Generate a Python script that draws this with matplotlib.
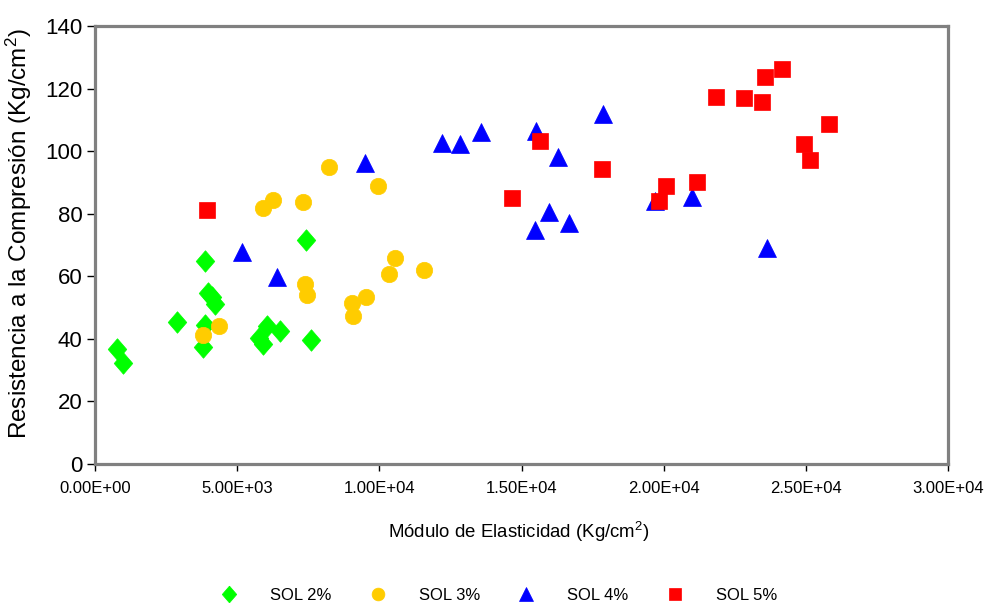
import matplotlib
matplotlib.use("Agg")
import matplotlib.pyplot as plt
from matplotlib.ticker import FixedLocator, FuncFormatter

plt.rcParams['font.family'] = ['Liberation Sans', 'DejaVu Sans']
plt.rcParams['mathtext.fontset'] = 'custom'
plt.rcParams['mathtext.rm'] = 'Liberation Sans'
plt.rcParams['mathtext.it'] = 'Liberation Sans:italic'
plt.rcParams['mathtext.default'] = 'regular'

# ---- data ----
sol2_x = [780, 1000, 2900, 3870, 3990, 4100, 4220, 3870, 3790, 6040, 6510, 5780, 5920, 7590, 7420]
sol2_y = [36.7, 32.2, 45.5, 64.9, 54.8, 53.3, 51.0, 44.4, 37.5, 44.2, 42.6, 40.2, 38.4, 39.6, 71.6]

sol3_x = [6250, 5900, 7300, 7390, 7470, 4350, 3790, 8240, 9970, 10550, 10340, 11570, 9530, 9040, 9060]
sol3_y = [84.4, 81.7, 83.8, 57.5, 54.0, 44.2, 41.2, 95.0, 88.9, 65.7, 60.6, 62.0, 53.3, 51.4, 47.3]

sol4_x = [5180, 6390, 9500, 12200, 12840, 13570, 15500, 16270, 17860, 15960, 16680, 15490, 21000, 23630, 19700]
sol4_y = [67.9, 59.9, 96.3, 102.7, 102.2, 106.0, 106.5, 98.2, 111.8, 80.6, 76.9, 74.8, 85.2, 68.9, 84.0]

sol5_x = [3930, 15650, 17830, 14650, 24150, 23570, 21840, 22810, 23470, 25820, 24950, 25150, 21160, 20070, 19840]
sol5_y = [81.2, 103.3, 94.4, 85.1, 126.4, 123.8, 117.4, 116.9, 115.6, 108.7, 102.3, 97.2, 90.2, 88.8, 84.2]

series_labels = ['SOL 2%', 'SOL 3%', 'SOL 4%', 'SOL 5%']
x_ticks = [0, 5000, 10000, 15000, 20000, 25000, 30000]
y_ticks = [0, 20, 40, 60, 80, 100, 120, 140]

# slightly tall diamond marker
diamond = [(0, 1.1), (0.95, 0), (0, -1.1), (-0.95, 0), (0, 1.1)]

# ---- figure ----
W, H = 984, 603
fig = plt.figure(figsize=(W / 100, H / 100), dpi=100)
ax = fig.add_axes([95 / W, 1 - 464 / H, (948 - 95) / W, (464 - 26) / H])

ax.plot(sol2_x, sol2_y, linestyle='none', marker=diamond, ms=15.5, color='#00FF00',
        mec='#00FF00', mew=0.5, label=series_labels[0])
ax.plot(sol3_x, sol3_y, linestyle='none', marker='o', ms=11.8, color='#FFCC00',
        mec='#FFCC00', mew=0.5, label=series_labels[1])
ax.plot(sol4_x, sol4_y, linestyle='none', marker='^', ms=12.5, color='#0000FF',
        mec='#0000FF', mew=0.5, label=series_labels[2])
ax.plot(sol5_x, sol5_y, linestyle='none', marker='s', ms=11.8, color='#FF0000',
        mec='#FF0000', mew=0.5, label=series_labels[3])

ax.set_xlim(0, 30000)
ax.set_ylim(0, 140)
ax.xaxis.set_major_locator(FixedLocator(x_ticks))
ax.yaxis.set_major_locator(FixedLocator(y_ticks))
ax.xaxis.set_major_formatter(FuncFormatter(lambda v, p: '{:.2E}'.format(v)))

for s in ax.spines.values():
    s.set_color('#808080')
    s.set_linewidth(2.3)

ax.tick_params(axis='x', direction='out', length=5, width=1, color='black',
               labelsize=12, pad=7)
ax.tick_params(axis='y', direction='out', length=6, width=1, color='black',
               labelsize=16, pad=3)

ax.set_xlabel(r'Módulo de Elasticidad (Kg/cm$^{2}$)', fontsize=13.4)
ax.set_ylabel(r'Resistencia a la Compresión (Kg/cm$^{2}$)', fontsize=17.5)
ax.xaxis.set_label_coords(0.497, -0.128)
ax.yaxis.set_label_coords(-0.071, 0.527)

fig.legend(loc='center', bbox_to_anchor=(0.507, 1 - 595 / H), ncol=4,
           frameon=False, fontsize=12, markerscale=0.78, handlelength=1.0,
           handletextpad=1.95, columnspacing=2.3)

fig.savefig('out.png', dpi=100)
